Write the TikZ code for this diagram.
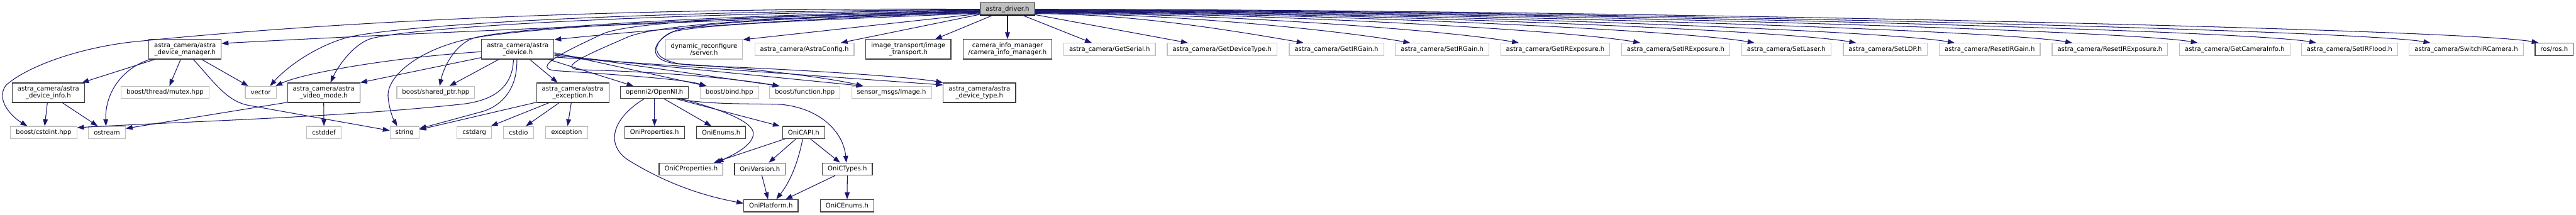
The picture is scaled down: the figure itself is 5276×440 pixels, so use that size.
\documentclass[tikz,border=0pt]{standalone}
\usepackage{fontspec}
\setmainfont{DejaVu Sans}
\usetikzlibrary{arrows.meta,calc}
\definecolor{edgecol}{HTML}{191970}
\definecolor{greybd}{HTML}{BFBFBF}
\definecolor{rootfill}{HTML}{BFBFBF}
\definecolor{darkbd}{HTML}{404040}
\begin{document}
\begin{tikzpicture}[x=1pt,y=-1pt,
  box/.style={rectangle, draw=darkbd, line width=1.5pt, inner xsep=11pt, inner ysep=2pt,
    minimum height=25pt, align=center, font=\fontsize{13}{14.5}\selectfont, text=black},
  ext/.style={box, draw=greybd},
  two/.style={minimum height=40pt},
  root/.style={box, draw=black, fill=rootfill},
  dep/.style={draw=edgecol, line width=1.35pt, -{Triangle[length=14pt,width=10pt]}}]
\fill[white] (0,0) rectangle (5276,440);
\useasboundingbox (0,0) rectangle (5276,440);

% root
\node[root] (driver) at (2063.5,18.5) {astra\_driver.h};

% row 1
\node[box,two] (devmgr) at (379,101) {astra\_camera/astra\\\_device\_manager.h};
\node[box,two] (device) at (1060.5,101) {astra\_camera/astra\\\_device.h};
\node[ext,two] (dynreconf) at (1442,101) {dynamic\_reconfigure\\/server.h};
\node[ext] (astracfg) at (1647.5,101) {astra\_camera/AstraConfig.h};
\node[box,two] (imgtrans) at (1860.5,101) {image\_transport/image\\\_transport.h};
\node[box,two] (caminfo) at (2063.5,101) {camera\_info\_manager\\/camera\_info\_manager.h};
\node[ext] (getserial) at (2272.5,101) {astra\_camera/GetSerial.h};
\node[ext] (getdevtype) at (2503.1,101) {astra\_camera/GetDeviceType.h};
\node[ext] (getirgain) at (2737.2,101) {astra\_camera/GetIRGain.h};
\node[ext] (setirgain) at (2953.8,101) {astra\_camera/SetIRGain.h};
\node[ext] (getirexp) at (3185.4,101) {astra\_camera/GetIRExposure.h};
\node[ext] (setirexp) at (3432,101) {astra\_camera/SetIRExposure.h};
\node[ext] (setlaser) at (3658.6,101) {astra\_camera/SetLaser.h};
\node[ext] (setldp) at (3861.2,101) {astra\_camera/SetLDP.h};
\node[ext] (resetirgain) at (4075.3,101) {astra\_camera/ResetIRGain.h};
\node[ext] (resetirexp) at (4321.4,101) {astra\_camera/ResetIRExposure.h};
\node[ext] (getcaminfo) at (4577,101) {astra\_camera/GetCameraInfo.h};
\node[ext] (setirflood) at (4812.1,101) {astra\_camera/SetIRFlood.h};
\node[ext] (switchir) at (5051.2,101) {astra\_camera/SwitchIRCamera.h};
\node[box] (ros) at (5231.3,101) {ros/ros.h};

% row 2
\node[box,two] (devinfo) at (99,190) {astra\_camera/astra\\\_device\_info.h};
\node[ext] (mutex) at (338,189.5) {boost/thread/mutex.hpp};
\node[ext] (vector) at (534,189.5) {vector};
\node[box,two] (videomode) at (663,190) {astra\_camera/astra\\\_video\_mode.h};
\node[ext] (sharedptr) at (892.5,189.5) {boost/shared\_ptr.hpp};
\node[box,two] (exch) at (1173,190) {astra\_camera/astra\\\_exception.h};
\node[box] (openni) at (1340.5,189.5) {openni2/OpenNI.h};
\node[ext] (bind) at (1494,189.5) {boost/bind.hpp};
\node[ext] (function) at (1648.5,189.5) {boost/function.hpp};
\node[ext] (sensor) at (1826,189.5) {sensor\_msgs/Image.h};
\node[box,two] (devtype) at (2006,190) {astra\_camera/astra\\\_device\_type.h};

% row 3
\node[ext] (cstdint) at (89.5,271.5) {boost/cstdint.hpp};
\node[ext] (ostream) at (219,271.5) {ostream};
\node[ext] (cstddef) at (663.5,271.5) {cstddef};
\node[ext] (string) at (828.5,271.5) {string};
\node[ext] (cstdarg) at (971.5,271.5) {cstdarg};
\node[ext] (cstdio) at (1062,271.5) {cstdio};
\node[ext] (exception) at (1160.5,271.5) {exception};
\node[box] (oniprops) at (1340.5,271.5) {OniProperties.h};
\node[box] (onienums) at (1477,271.5) {OniEnums.h};
\node[box] (onicapi) at (1646,271.5) {OniCAPI.h};

% row 4
\node[box] (onicprops) at (1415.5,346.5) {OniCProperties.h};
\node[box] (oniversion) at (1556.5,346.5) {OniVersion.h};
\node[box] (onictypes) at (1735.5,346.5) {OniCTypes.h};

% row 5
\node[box] (oniplatform) at (1579,421.5) {OniPlatform.h};
\node[box] (onicenums) at (1735,421.5) {OniCEnums.h};

% ---------- edges from astra_driver.h (right fan)
\draw[dep] ($(driver.south)+(32,0)$) -- ($(getserial.north west)+(58,0)$);
\draw[dep] ($(driver.east)+(0,11.5)$) -- ($(getdevtype.north west)+(43,0)$);
\draw[dep] ($(driver.east)+(0,9.5)$) .. controls (2312,28) and (2510,60) .. ($(getirgain.north west)+(30,0)$);
\draw[dep] ($(driver.east)+(0,8.5)$) .. controls (2388,27) and (2729,60) .. ($(setirgain.north west)+(31,0)$);
\draw[dep] ($(driver.east)+(0,7.7)$) .. controls (2466,26.2) and (2951,60) .. ($(getirexp.north west)+(38,0)$);
\draw[dep] ($(driver.east)+(0,6.9)$) .. controls (2553,25.4) and (3200,60) .. ($(setirexp.north west)+(39,0)$);
\draw[dep] ($(driver.east)+(0,6.1)$) .. controls (2635,24.6) and (3434,60) .. ($(setlaser.north west)+(27,0)$);
\draw[dep] ($(driver.east)+(0,5.3)$) .. controls (2708,23.8) and (3641,60) .. ($(setldp.north west)+(27,0)$);
\draw[dep] ($(driver.east)+(0,4.5)$) .. controls (2779,23) and (3844,60) .. ($(resetirgain.north west)+(32,0)$);
\draw[dep] ($(driver.east)+(0,3.7)$) .. controls (2863,22.2) and (4084,60) .. ($(resetirexp.north west)+(42,0)$);
\draw[dep] ($(driver.east)+(0,2.9)$) .. controls (2953,21.4) and (4342,60) .. ($(getcaminfo.north west)+(38,0)$);
\draw[dep] ($(driver.east)+(0,2.1)$) .. controls (3038,20.6) and (4585,60) .. ($(setirflood.north west)+(31,0)$);
\draw[dep] ($(driver.east)+(0,1.3)$) .. controls (3120,19.8) and (4818,60) .. ($(switchir.north west)+(44,0)$);
\draw[dep] ($(driver.east)+(0,0.5)$) .. controls (3197,19) and (5040,58) .. ($(ros.north west)+(8,0)$);

% ---------- edges from astra_driver.h (left side)
\draw[dep] (driver.south) -- (caminfo.north);
\draw[dep] ($(driver.south west)+(25,0)$) -- ($(imgtrans.north east)+(-33,0)$);
\draw[dep] ($(driver.west)+(0,11)$) -- ($(astracfg.north east)+(-28,0)$);
\draw[dep] ($(driver.west)+(0,9.5)$) -- ($(dynreconf.north east)+(0,1)$);
\draw[dep] ($(driver.west)+(0,0.5)$) .. controls (1300,15) and (700,42) .. (270,86)
  .. controls (150,100) and (50,140) .. (12,175) .. controls (-10,205) and (25,240) .. ($(cstdint.north west)+(35,0)$);
\draw[dep] ($(driver.west)+(0,1.3)$) .. controls (1300,22) and (800,52) .. (707,78)
  .. controls (640,98) and (585,140) .. ($(vector.north)+(19,0)$);
\draw[dep] ($(driver.west)+(0,2.1)$) .. controls (1300,28) and (830,57) .. (757,80)
  .. controls (720,94) and (690,140) .. ($(videomode.north)+(14,0)$);
\draw[dep] ($(driver.west)+(0,2.9)$) .. controls (1400,32) and (1030,60) .. (970,78)
  .. controls (930,92) and (908,140) .. ($(sharedptr.north)+(8,0)$);
\draw[dep] ($(driver.west)+(0,3.7)$) .. controls (1400,38) and (1050,58) .. (950,82)
  .. controls (850,106) and (790,160) .. (795,200) .. controls (798,228) and (806,245) .. ($(string.north)+(-15,0)$);
\draw[dep] ($(driver.west)+(0,4.5)$) .. controls (1500,40) and (800,70) .. ($(devmgr.east)+(0,-12)$);
\draw[dep] ($(driver.west)+(0,5.3)$) .. controls (1500,32) and (1280,48) .. (1233,70)
  .. controls (1170,100) and (1080,140) .. (1140,145) .. controls (1250,152) and (1400,162) .. ($(bind.north)+(-47,0)$);
\draw[dep] ($(driver.west)+(0,6.1)$) .. controls (1500,36) and (1330,56) .. (1283,77)
  .. controls (1225,103) and (1130,140) .. (1190,143) .. controls (1350,147) and (1500,160) .. ($(function.north)+(-52,0)$);
\draw[dep] ($(driver.west)+(0,6.9)$) .. controls (1600,38) and (1300,64) .. ($(device.north east)+(0,1)$);
\draw[dep] ($(driver.west)+(0,7.7)$) .. controls (1600,36) and (1420,48) .. (1383,63)
  .. controls (1335,83) and (1320,125) .. (1390,131) .. controls (1550,140) and (1700,160) .. ($(sensor.north)+(-58,0)$);
\draw[dep] ($(driver.west)+(0,8.5)$) .. controls (1650,42) and (1430,50) .. (1375,66)
  .. controls (1335,85) and (1322,128) .. (1420,134) .. controls (1700,145) and (1880,160) .. (devtype.north west);

% ---------- astra_device_manager.h
\draw[dep] ($(devmgr.south west)+(13,0)$) -- ($(devinfo.north east)+(-6,0)$);
\draw[dep] ($(devmgr.south west)+(3,0)$) .. controls (250,140) and (215,190) .. ($(ostream.north)+(-2,0)$);
\draw[dep] ($(devmgr.south)+(-9,0)$) -- ($(mutex.north)+(9,0)$);
\draw[dep] ($(devmgr.south)+(17,0)$) .. controls (440,170) and (465,208) .. (510,216) -- ($(string.west)+(0,-4)$);
\draw[dep] ($(devmgr.south)+(34,0)$) -- ($(vector.north west)+(7,0)$);

% ---------- astra_device_info.h
\draw[dep] ($(devinfo.south)+(-2,0)$) -- ($(cstdint.north)+(2,0)$);
\draw[dep] ($(devinfo.south)+(29,0)$) -- ($(ostream.north)+(-19,0)$);

% ---------- astra_video_mode.h
\draw[dep] (videomode.south) -- (cstddef.north);
\draw[dep] ($(videomode.south west)+(0,-1)$) -- ($(ostream.north east)+(0,5)$);

% ---------- astra_device.h
\draw[dep] ($(device.west)+(0,5)$) .. controls (800,118) and (620,150) .. ($(vector.north east)+(-2,0)$);
\draw[dep] ($(device.west)+(0,17)$) -- ($(videomode.north east)+(0,0)$);
\draw[dep] ($(device.south west)+(36,0)$) -- ($(sharedptr.north)+(28,0)$);
\draw[dep] ($(device.south west)+(66,0)$) .. controls (1050,180) and (1010,205) .. (950,213)
  .. controls (700,240) and (400,248) .. ($(cstdint.east)+(0,-10)$);
\draw[dep] ($(device.south west)+(73,0)$) .. controls (1060,180) and (1030,215) .. (990,228) -- ($(string.east)+(0,-8)$);
\draw[dep] ($(device.south)+(24.5,0)$) -- ($(exch.north)+(-31,0)$);
\draw[dep] ($(device.south east)+(-12,0)$) -- ($(openni.north)+(-43,0)$);
\draw[dep] ($(device.east)+(0,7)$) -- ($(bind.north)+(-47,0)$);
\draw[dep] ($(device.east)+(0,9.5)$) -- ($(function.north)+(-52,0)$);
\draw[dep] ($(device.east)+(0,12.5)$) -- ($(sensor.north)+(-58,0)$);
\draw[dep] ($(device.east)+(0,16)$) -- ($(devtype.west)+(0,-16)$);

% ---------- astra_exception.h
\draw[dep] ($(exch.south west)+(0,-1)$) -- ($(string.east)+(0,-6)$);
\draw[dep] ($(exch.south west)+(26,0)$) -- ($(cstdarg.north east)+(-2,0)$);
\draw[dep] ($(exch.south)+(-28,0)$) -- ($(cstdio.north)+(15,0)$);
\draw[dep] ($(exch.south)+(-3,0)$) -- ($(exception.north)+(2,0)$);

% ---------- openni2/OpenNI.h
\draw[dep] (openni.south) -- (oniprops.north);
\draw[dep] ($(openni.south)+(20,0)$) -- ($(onienums.north)+(-20,0)$);
\draw[dep] ($(openni.south)+(45,0)$) -- ($(onicapi.north)+(-49,0)$);
\draw[dep] ($(openni.south east)+(-20,0)$) .. controls (1450,215) and (1550,212) .. (1600,214)
  .. controls (1680,222) and (1727,270) .. ($(onictypes.north)+(-2,0)$);
\draw[dep] ($(openni.south east)+(-15,0)$) .. controls (1480,225) and (1545,250) .. (1543,275)
  .. controls (1540,300) and (1500,318) .. ($(onicprops.north east)+(-14,0)$);
\draw[dep] ($(openni.south west)+(49,0)$) .. controls (1250,245) and (1240,300) .. (1290,330)
  .. controls (1380,385) and (1460,405) .. ($(oniplatform.west)+(0,-5)$);

% ---------- OniCAPI.h
\draw[dep] ($(onicapi.south west)+(5,0)$) -- ($(onicprops.north east)+(-20,0)$);
\draw[dep] ($(onicapi.south)+(-16,0)$) -- ($(oniversion.north)+(18,0)$);
\draw[dep] ($(onicapi.south)+(-2,0)$) .. controls (1635,330) and (1620,370) .. ($(oniplatform.north)+(11,0)$);
\draw[dep] ($(onicapi.south)+(14,0)$) -- ($(onictypes.north)+(-15,0)$);

% ---------- OniCTypes.h / OniVersion.h
\draw[dep] ($(onictypes.south)+(-25,0)$) -- ($(oniplatform.north)+(30,0)$);
\draw[dep] (onictypes.south) -- (onicenums.north);
\draw[dep] ($(oniversion.south)+(4,0)$) -- ($(oniplatform.north)+(-6,0)$);
\end{tikzpicture}
\end{document}
